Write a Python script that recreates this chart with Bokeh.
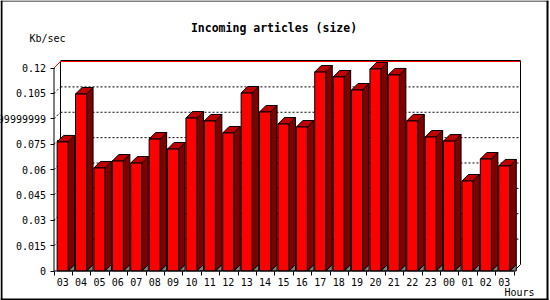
from bokeh.plotting import figure
from bokeh.models import FixedTicker, Label
from bokeh.embed import file_html
from bokeh.resources import INLINE

# ---- data ----
hours = ["03", "04", "05", "06", "07", "08", "09", "10", "11", "12", "13", "14",
         "15", "16", "17", "18", "19", "20", "21", "22", "23", "00", "01", "02", "03"]
values = [0.0763, 0.1046, 0.0609, 0.0650, 0.0638, 0.0780, 0.0721, 0.0904, 0.0887,
          0.0816, 0.1052, 0.0940, 0.0869, 0.0851, 0.1176, 0.1147, 0.1070, 0.1194,
          0.1159, 0.0887, 0.0792, 0.0768, 0.0532, 0.0662, 0.0621]
y_ticks = [0, 0.015, 0.03, 0.045, 0.06, 0.075, 0.09, 0.105, 0.12]
y_tick_labels = ["0", "0.015", "0.03", "0.045", "0.06", "0.075",
                 "0.0899999999999999", "0.105", "0.12"]
title_text = "Incoming articles (size)"
y_title = "Kb/sec"
x_title = "Hours"

# ---- geometry / style ----
SLOT_PX = 18.4           # px per category slot
K = 203 / 0.12           # px per unit on y
DX = 6.5 / SLOT_PX       # 3D depth
DY = 6.5 / K
W, H = 550, 300
ORG_X, ORG_Y = 53.5, 270.5   # page position of the data origin (front axes)
n = len(values)
ymax = y_ticks[-1]
FONT = "DejaVu Sans Mono"


def px_x(page_x):
    return (page_x - ORG_X) / SLOT_PX


def px_y(page_y):
    return (ORG_Y - page_y) / K


p = figure(width=W, height=H, output_backend="svg", toolbar_location=None,
           x_range=(px_x(0), px_x(W)), y_range=(px_y(H), px_y(0)),
           min_border_left=0, min_border_right=0,
           min_border_top=0, min_border_bottom=0)
p.background_fill_color = "white"
p.border_fill_color = "white"
p.outline_line_color = None
p.xgrid.visible = False
p.ygrid.visible = False

# image frame (black border of the picture)
p.line([px_x(1), px_x(1)], [px_y(0), px_y(300)], line_color="black", line_width=2)
p.line([px_x(547), px_x(547)], [px_y(0), px_y(300)], line_color="black", line_width=2)
p.line([px_x(0), px_x(548)], [px_y(0.5), px_y(0.5)], line_color="black", line_width=1)
p.line([px_x(0), px_x(548)], [px_y(299), px_y(299)], line_color="black", line_width=2)

# ---- back plane ----
back_l = DX
back_r = n + DX
back_t = ymax + DY
for t in y_ticks[1:-1]:
    p.line([back_l, back_r], [t + DY, t + DY], line_color="black",
           line_width=1, line_dash="2 2")
    p.line([0, back_l], [t, t + DY], line_color="black", line_width=1, line_dash="2 2")
p.line([back_l, back_l], [DY, back_t], line_color="black", line_width=1)
p.line([back_r, back_r], [DY, back_t + 1 / K], line_color="black", line_width=1)
p.line([n, back_r], [0, DY], line_color="black", line_width=1)
p.line([back_l, back_r], [back_t + 1 / K, back_t + 1 / K], line_color="black", line_width=1)
p.line([0, back_l, back_r], [ymax, back_t, back_t], line_color="#FF0000", line_width=1)

# ---- 3D bars ----
half = 0.3
centers = [i + 0.47 for i in range(n)]
L = [c - half for c in centers]
R = [c + half for c in centers]
top_xs = [[l, r, r + DX, l + DX] for l, r in zip(L, R)]
top_ys = [[v, v, v + DY, v + DY] for v in values]
side_xs = [[r, r, r + DX, r + DX] for r in R]
side_ys = [[0, v, v + DY, DY] for v in values]
shad_xs = [[r, r + DX, r + DX] for r in R]
shad_ys = [[0, DY, 0] for _ in R]
p.patches(shad_xs, shad_ys, fill_color="#808080", line_color="black", line_width=1)
p.patches(side_xs, side_ys, fill_color="#800000", line_color="black", line_width=1)
p.patches(top_xs, top_ys, fill_color="#C00000", line_color="black", line_width=1)
p.quad(left=L, right=R, bottom=0, top=values, fill_color="#FF0000",
       line_color="black", line_width=1)
p.line([0, 0], [0, ymax], line_color="black", line_width=1)
p.line([0, n], [0, 0], line_color="black", line_width=1)

# ---- axes (pinned to the front axes) ----
p.xaxis.fixed_location = 0
p.xaxis.ticker = FixedTicker(ticks=centers, minor_ticks=list(range(n + 1)))
p.xaxis.major_label_overrides = {c: h for c, h in zip(centers, hours)}
p.xaxis.major_tick_out = 0
p.xaxis.major_tick_in = 0
p.xaxis.minor_tick_out = 4
p.xaxis.minor_tick_in = 0
p.xaxis.major_label_standoff = 3

p.yaxis.fixed_location = 0
p.yaxis.ticker = FixedTicker(ticks=y_ticks)
p.yaxis.major_label_overrides = {t: lab for t, lab in zip(y_ticks, y_tick_labels)}
p.yaxis.major_tick_out = 4
p.yaxis.major_tick_in = 0
p.yaxis.minor_tick_out = 0
p.yaxis.minor_tick_in = 0
p.yaxis.major_label_standoff = 4

for ax in (p.xaxis, p.yaxis):
    ax.axis_line_color = None
    ax.major_tick_line_color = "black"
    ax.minor_tick_line_color = "black"
    ax.major_label_text_font = FONT
    ax.major_label_text_font_size = "10px"
    ax.major_label_text_color = "black"

# ---- texts (positions given as the middle of the glyphs on the page) ----
p.add_layout(Label(x=px_x(273.5), y=px_y(27.2), text=title_text,
                   text_align="center", text_baseline="middle", text_font=FONT,
                   text_font_style="bold", text_font_size="11.5px", text_color="black"))
p.add_layout(Label(x=px_x(47), y=px_y(37.5), text=y_title,
                   text_align="center", text_baseline="middle", text_font=FONT,
                   text_font_size="10px", text_color="black"))
p.add_layout(Label(x=px_x(519), y=px_y(292), text=x_title,
                   text_align="center", text_baseline="middle", text_font=FONT,
                   text_font_size="10px", text_color="black"))

open("out.html", "w").write(file_html(p, INLINE))
